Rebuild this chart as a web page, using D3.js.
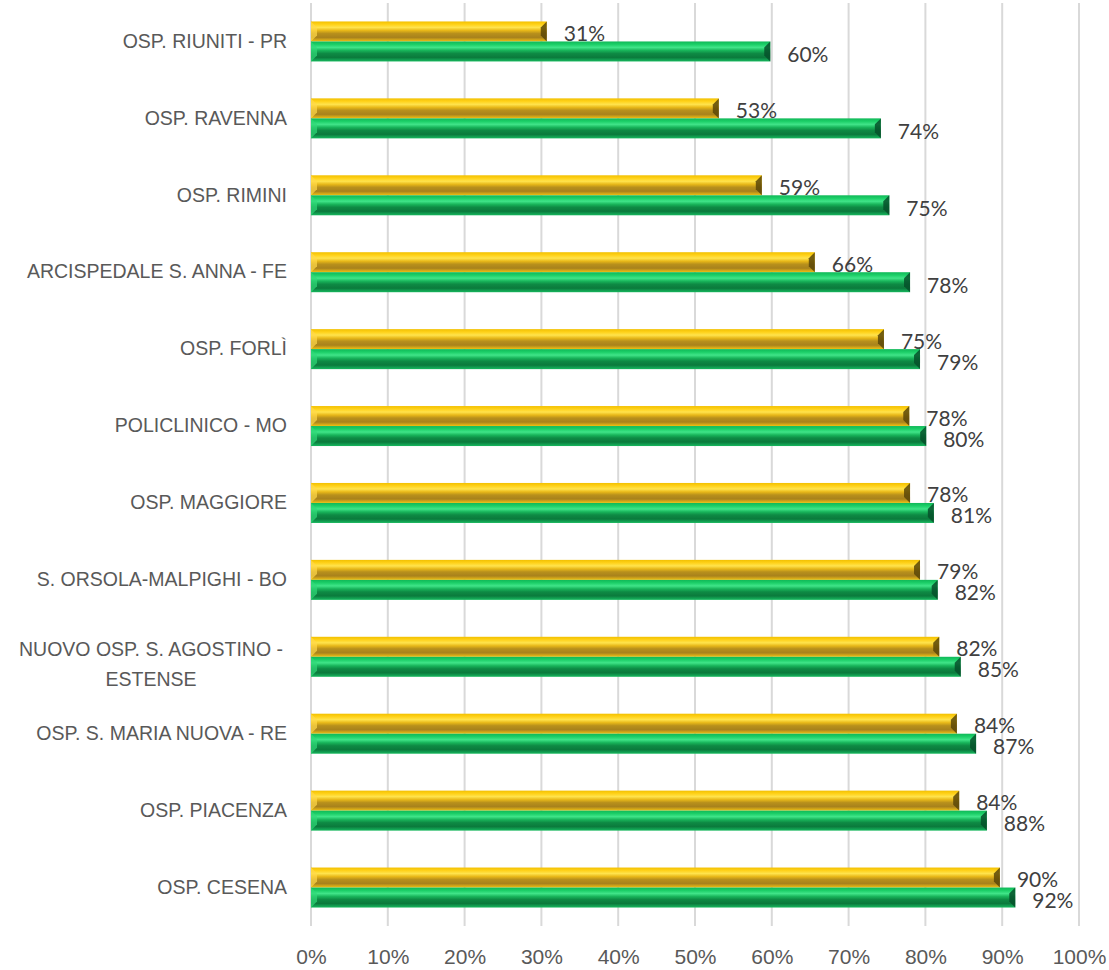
<!DOCTYPE html>
<html>
<head>
<meta charset="utf-8">
<script src="https://cdn.jsdelivr.net/npm/d3@7"></script>
<style>
  body { margin: 0; background: #fff; }
  svg { display: block; font-family: Lato, "Open Sans", sans-serif; }
</style>
</head>
<body>
<svg id="chart" width="1109" height="970"></svg>
<script>
// categories top to bottom
const categories = [
  'OSP. RIUNITI - PR',
  'OSP. RAVENNA',
  'OSP. RIMINI',
  'ARCISPEDALE S. ANNA - FE',
  'OSP. FORLÌ',
  'POLICLINICO - MO',
  'OSP. MAGGIORE',
  'S. ORSOLA-MALPIGHI - BO',
  'NUOVO OSP. S. AGOSTINO - ESTENSE',
  'OSP. S. MARIA NUOVA - RE',
  'OSP. PIACENZA',
  'OSP. CESENA'
];
const yellowValues = [30.7, 53.1, 58.7, 65.6, 74.6, 77.9, 78.0, 79.3, 81.8, 84.1, 84.4, 89.7];
const greenValues = [59.8, 74.2, 75.3, 78.0, 79.3, 80.1, 81.1, 81.6, 84.6, 86.6, 88.0, 91.7];
const tickValues = [0, 10, 20, 30, 40, 50, 60, 70, 80, 90, 100];

const svg = d3.select('#chart');
const margin = { top: 3, right: 30, bottom: 44, left: 311 };
const width = 1109;
const height = 970;

const x = d3.scaleLinear().domain([0, 100]).range([margin.left, 1079]);
const y = d3.scaleBand().domain(categories)
  .range([margin.top, height - margin.bottom]).paddingInner(0.48).paddingOuter(0.24);
const sub = d3.scaleBand().domain(['yellow', 'green']).range([0, y.bandwidth()]);

// gradients for the bevelled bars
const defs = svg.append('defs');
function grad(id, stops) {
  const g = defs.append('linearGradient').attr('id', id)
    .attr('x1', 0).attr('y1', 0).attr('x2', 0).attr('y2', 1);
  stops.forEach(([o, c]) => g.append('stop').attr('offset', o).attr('stop-color', c));
}
grad('gY', [[0, '#f2c000'], [0.15, '#ffd21a'], [0.3, '#ffe34d'], [0.45, '#e8b818'],
  [0.6, '#b8901c'], [0.8, '#a8821c'], [0.92, '#d4a818'], [1, '#f0c010']]);
grad('gG', [[0, '#10b858'], [0.15, '#1ccf68'], [0.3, '#40e488'], [0.45, '#18b45a'],
  [0.6, '#0e8a44'], [0.8, '#0b7a3c'], [0.92, '#12a052'], [1, '#16b85c']]);

// gridlines
svg.append('g').selectAll('line').data(tickValues).join('line')
  .attr('x1', d => x(d)).attr('x2', d => x(d))
  .attr('y1', margin.top).attr('y2', height - margin.bottom)
  .attr('stroke', '#d9d9d9').attr('stroke-width', 2);

// x axis labels
const xAxis = d3.axisBottom(x).tickValues(tickValues).tickFormat(d => d + '%').tickSize(0).tickPadding(0);
const xg = svg.append('g').attr('transform', `translate(0,${height - margin.bottom + 38})`).call(xAxis);
xg.select('.domain').remove();
xg.selectAll('text').attr('fill', '#595959').style('font-size', '21px')
  .attr('dy', null);

// category labels
const yAxis = d3.axisLeft(y).tickSize(0).tickPadding(0);
const yg = svg.append('g').attr('transform', `translate(${margin.left - 24},0)`).call(yAxis);
yg.select('.domain').remove();
yg.selectAll('text').attr('fill', '#595959').style('font-size', '19.5px').each(function (d) {
  if (d === 'NUOVO OSP. S. AGOSTINO - ESTENSE') {
    const t = d3.select(this).text(null).attr('text-anchor', 'middle').attr('dy', null);
    t.append('tspan').attr('x', -136).attr('y', -1).text('NUOVO OSP. S. AGOSTINO -');
    t.append('tspan').attr('x', -136).attr('y', 29).text('ESTENSE');
  }
});

// bars
const series = [
  { key: 'yellow', values: yellowValues, fill: 'url(#gY)', left: '#ffd84a', right: '#5a4608' },
  { key: 'green', values: greenValues, fill: 'url(#gG)', left: '#30d878', right: '#06502a' }
];
const bh = sub.bandwidth();
series.forEach(s => {
  const g = svg.append('g').selectAll('g').data(categories).join('g')
    .attr('transform', (d, i) => `translate(${x(0)},${y(d) + sub(s.key)})`);
  g.append('rect')
    .attr('width', (d, i) => x(s.values[i]) - x(0))
    .attr('height', bh).attr('fill', s.fill);
  // left bevel
  g.append('path')
    .attr('d', `M0,0 L6,${bh * 0.3} L6,${bh * 0.7} L0,${bh} Z`)
    .attr('fill', s.left).attr('opacity', 0.7);
  // right bevel
  g.append('path')
    .attr('d', (d, i) => {
      const w = x(s.values[i]) - x(0);
      return `M${w},0 L${w - 6},${bh * 0.3} L${w - 6},${bh * 0.7} L${w},${bh} Z`;
    })
    .attr('fill', s.right).attr('opacity', 0.85);
  // value labels
  g.append('text')
    .attr('x', (d, i) => x(s.values[i]) - x(0) + 17)
    .attr('y', s.key === 'yellow' ? bh - 0.5 : bh + 0.5)
    .attr('fill', '#404040').style('font-size', '21px')
    .text((d, i) => Math.round(s.values[i]) + '%');
});
</script>
</body>
</html>
